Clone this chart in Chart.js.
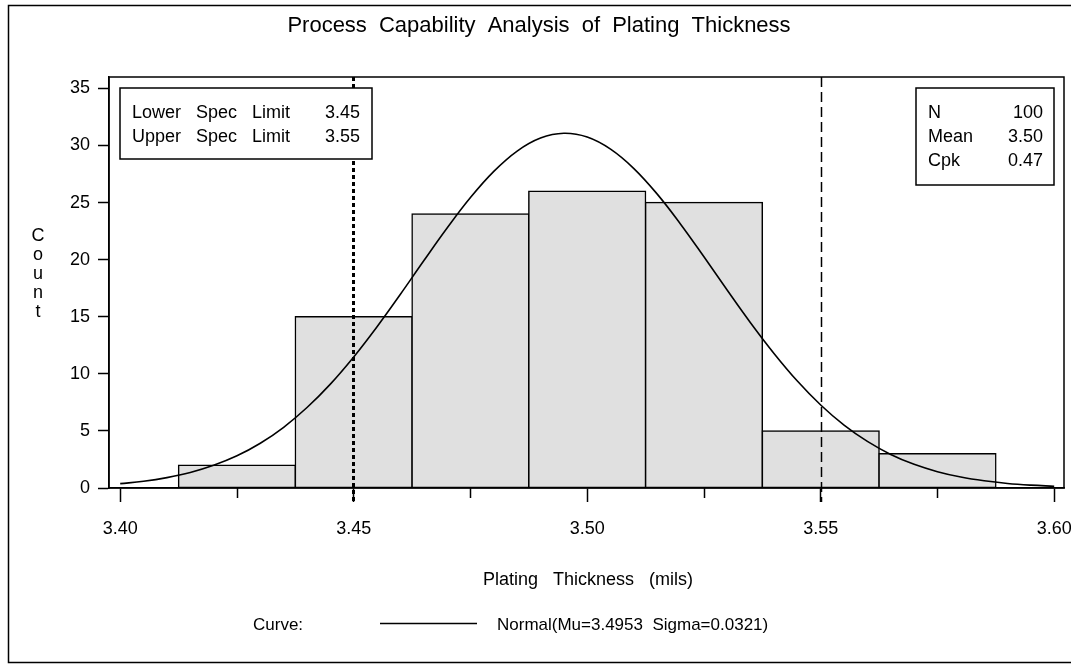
<!DOCTYPE html>
<html>
<head>
<meta charset="utf-8">
<title>Process Capability Analysis of Plating Thickness</title>
<script src="https://cdn.jsdelivr.net/npm/chart.js@4.4.1/dist/chart.umd.min.js"></script>
<style>
  html, body { margin: 0; padding: 0; background: #fff; }
  #wrap { width: 1071px; height: 669px; }
</style>
</head>
<body>
<div id="wrap"><canvas id="capChart" width="1071" height="669"></canvas></div>
<script>
// histogram bins (midpoints, mils) and counts
var binMids = [3.425, 3.45, 3.475, 3.50, 3.525, 3.55, 3.575];
var binCounts = [2, 15, 24, 26, 25, 5, 3];

// fitted normal curve
var curveX = [3.400, 3.405, 3.410, 3.415, 3.420, 3.425, 3.430, 3.435, 3.440, 3.445,
              3.450, 3.455, 3.460, 3.465, 3.470, 3.475, 3.480, 3.485, 3.490, 3.495,
              3.500, 3.505, 3.510, 3.515, 3.520, 3.525, 3.530, 3.535, 3.540, 3.545,
              3.550, 3.555, 3.560, 3.565, 3.570, 3.575, 3.580, 3.585, 3.590, 3.595, 3.600];
var curveY = [0.38, 0.59, 0.91, 1.36, 1.99, 2.82, 3.92, 5.32, 7.05, 9.10,
              11.48, 14.13, 16.97, 19.90, 22.77, 25.44, 27.73, 29.51, 30.65, 31.07,
              30.74, 29.68, 27.98, 25.74, 23.11, 20.25, 17.32, 14.46, 11.79, 9.37,
              7.27, 5.51, 4.08, 2.94, 2.07, 1.43, 0.96, 0.63, 0.40, 0.25, 0.15];

// axis ticks
var xMajor = [3.40, 3.45, 3.50, 3.55, 3.60];
var xMinor = [3.425, 3.475, 3.525, 3.575];
var yTicks = [0, 5, 10, 15, 20, 25, 30, 35];

// spec limits and inset tables
var lowerSpec = 3.45;
var upperSpec = 3.55;
var specRows = [['Lower Spec Limit', '3.45'], ['Upper Spec Limit', '3.55']];
var statRows = [['N', '100'], ['Mean', '3.50'], ['Cpk', '0.47']];

var FONT = '"Liberation Sans", Arial, Helvetica, sans-serif';

function spacedText(ctx, txt, x, y, extra) {
    // SAS puts wide gaps between words
    var words = txt.split(' ');
    var sp = ctx.measureText(' ').width + extra;
    var total = 0, i;
    for (i = 0; i < words.length; i++) total += ctx.measureText(words[i]).width;
    total += (words.length - 1) * sp;
    var align = ctx.textAlign;
    var start = x;
    if (align === 'center') start = x - total / 2;
    else if (align === 'right') start = x - total;
    ctx.textAlign = 'left';
    for (i = 0; i < words.length; i++) {
        ctx.fillText(words[i], start, y);
        start += ctx.measureText(words[i]).width + sp;
    }
    ctx.textAlign = align;
}

function insetBox(ctx, x, y, w, h, rows, rowGap, labelX, valueX) {
    ctx.save();
    ctx.fillStyle = '#fff';
    ctx.fillRect(x, y, w, h);
    ctx.strokeStyle = '#000';
    ctx.lineWidth = 1.5;
    ctx.setLineDash([]);
    ctx.strokeRect(x, y, w, h);
    ctx.fillStyle = '#000';
    ctx.font = '18px ' + FONT;
    ctx.textBaseline = 'middle';
    for (var i = 0; i < rows.length; i++) {
        var ry = y + 25 + i * rowGap;
        ctx.textAlign = 'left';
        spacedText(ctx, rows[i][0], labelX, ry, 10);
        ctx.textAlign = 'right';
        ctx.fillText(rows[i][1], valueX, ry);
    }
    ctx.restore();
}

var extras = {
    id: 'extras',
    afterDatasetsDraw: function(chart) {
        var ctx = chart.ctx, a = chart.chartArea, xs = chart.scales.x;
        ctx.save();
        ctx.strokeStyle = '#000';
        // lower spec limit, heavy dotted
        var lx = Math.round(xs.getPixelForValue(lowerSpec)) - 0.5;
        ctx.lineWidth = 3;
        ctx.setLineDash([4, 3]);
        ctx.beginPath();
        ctx.moveTo(lx, a.top);
        ctx.lineTo(lx, a.bottom + 14);
        ctx.stroke();
        // upper spec limit, dashed
        var ux = Math.round(xs.getPixelForValue(upperSpec)) + 0.5;
        ctx.lineWidth = 1.5;
        ctx.setLineDash([10, 5]);
        ctx.beginPath();
        ctx.moveTo(ux, a.top);
        ctx.lineTo(ux, a.bottom + 14);
        ctx.stroke();
        ctx.restore();
    },
    afterDraw: function(chart) {
        var ctx = chart.ctx, a = chart.chartArea, xs = chart.scales.x;
        ctx.save();
        ctx.strokeStyle = '#000';
        ctx.lineWidth = 1.5;
        // outer border (right side runs off the picture)
        ctx.strokeRect(8.5, 5.5, 1100, 657);
        // plot frame
        ctx.strokeRect(a.left, a.top, a.right - a.left, a.bottom - a.top);
        // minor x ticks
        ctx.beginPath();
        xMinor.forEach(function(v) {
            var px = Math.round(xs.getPixelForValue(v)) + 0.5;
            ctx.moveTo(px, a.bottom);
            ctx.lineTo(px, a.bottom + 10);
        });
        ctx.stroke();
        ctx.restore();

        insetBox(ctx, 120, 88, 252, 71, specRows, 24, 132, 360);
        insetBox(ctx, 916, 88, 138, 97, statRows, 24, 928, 1043);

        ctx.save();
        ctx.fillStyle = '#000';
        ctx.textBaseline = 'middle';
        // title
        ctx.font = '22px ' + FONT;
        ctx.textAlign = 'center';
        spacedText(ctx, 'Process Capability Analysis of Plating Thickness', 539, 26, 6);
        // y label, stacked letters
        ctx.font = '18px ' + FONT;
        var letters = ['C', 'o', 'u', 'n', 't'];
        letters.forEach(function(ch, i) {
            ctx.fillText(ch, 38, 236 + i * 19);
        });
        // x axis title
        spacedText(ctx, 'Plating Thickness (mils)', 588, 580, 10);
        // curve legend
        ctx.font = '17px ' + FONT;
        ctx.textAlign = 'left';
        ctx.fillText('Curve:', 253, 625);
        ctx.fillText('Normal(Mu=3.4953  Sigma=0.0321)', 497, 625);
        ctx.lineWidth = 1.5;
        ctx.strokeStyle = '#000';
        ctx.beginPath();
        ctx.moveTo(380, 623.5);
        ctx.lineTo(477, 623.5);
        ctx.stroke();
        ctx.restore();
    }
};

var ctx = document.getElementById('capChart').getContext('2d');
new Chart(ctx, {
    type: 'bar',
    data: {
        datasets: [{
            type: 'line',
            data: curveX.map(function(x, i) { return {x: x, y: curveY[i]}; }),
            borderColor: '#000',
            borderWidth: 1.6,
            pointRadius: 0,
            tension: 0.4,
            fill: false,
            order: 0
        }, {
            type: 'bar',
            data: binMids.map(function(m, i) { return {x: m, y: binCounts[i]}; }),
            backgroundColor: '#e0e0e0',
            borderColor: '#000',
            borderWidth: 1.5,
            borderSkipped: false,
            inflateAmount: 0.75,
            barPercentage: 1,
            categoryPercentage: 1,
            order: 1
        }]
    },
    options: {
        responsive: false,
        animation: false,
        layout: { padding: { left: 0, right: 7, top: 77, bottom: 0 } },
        plugins: {
            legend: { display: false },
            tooltip: { enabled: false },
            title: { display: false }
        },
        scales: {
            x: {
                type: 'linear',
                min: 3.3976,
                max: 3.6021,
                offset: false,
                afterBuildTicks: function(s) {
                    s.ticks = xMajor.map(function(v) { return {value: v}; });
                },
                afterFit: function(s) {
                    s.height = 181;
                    s.paddingLeft = 0;
                    s.paddingRight = 0;
                },
                ticks: {
                    autoSkip: false,
                    maxRotation: 0,
                    color: '#000',
                    font: { family: FONT, size: 18 },
                    padding: 16,
                    callback: function(v) { return Number(v).toFixed(2); }
                },
                grid: { drawOnChartArea: false, offset: false, tickLength: 14, tickWidth: 1.5, tickColor: '#000' },
                border: { display: true, color: '#000', width: 1.5 }
            },
            y: {
                min: 0,
                max: 36,
                afterBuildTicks: function(s) {
                    s.ticks = yTicks.map(function(v) { return {value: v}; });
                },
                afterFit: function(s) {
                    s.width = 109;
                    s.paddingTop = 0;
                    s.paddingBottom = 0;
                },
                ticks: {
                    color: '#000',
                    font: { family: FONT, size: 18 },
                    padding: 8
                },
                grid: { drawOnChartArea: false, tickLength: 11, tickWidth: 1.5, tickColor: '#000' },
                border: { display: true, color: '#000', width: 1.5 }
            }
        }
    },
    plugins: [extras]
});
</script>
</body>
</html>
